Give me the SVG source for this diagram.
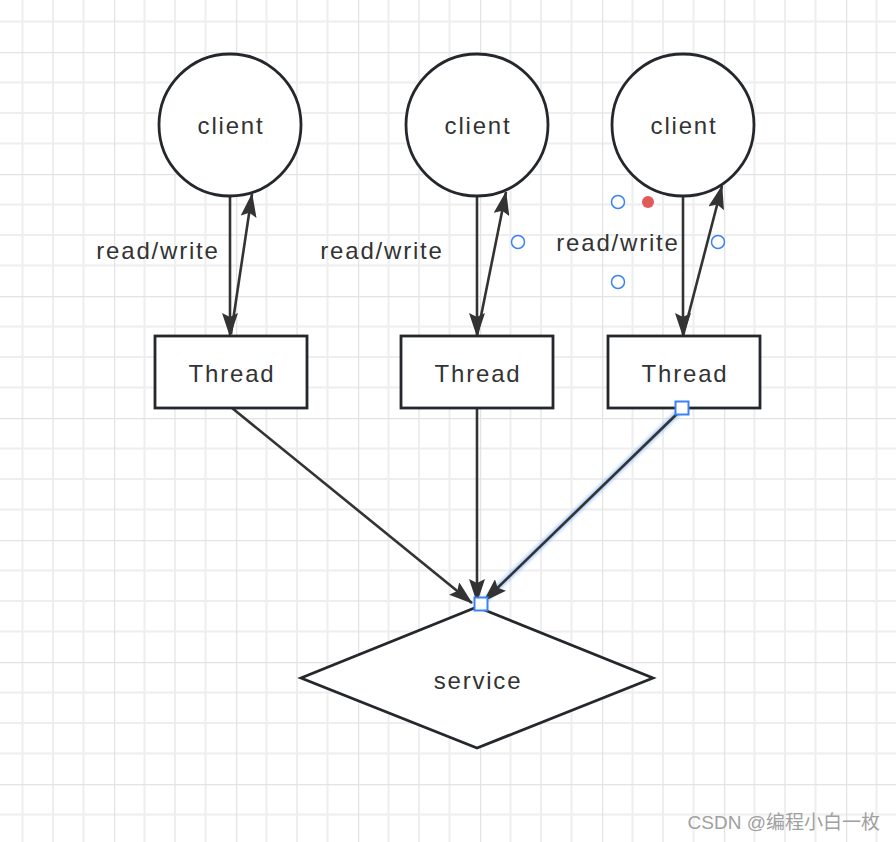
<svg xmlns="http://www.w3.org/2000/svg" width="896" height="842" viewBox="0 0 896 842">
<defs>
<pattern id="grid" patternUnits="userSpaceOnUse" x="-8" y="-70" width="122" height="122">
<path d="M30.5 0V122M61 0V122M91.5 0V122M0 30.5H122M0 61H122M0 91.5H122" stroke="#eeeeee" stroke-width="2" fill="none"/>
<path d="M0 0V122M0 0H122" stroke="#e3e3e3" stroke-width="2.5" fill="none"/>
</pattern>
<marker id="arr" viewBox="0 0 24 16" refX="23" refY="8" markerWidth="24" markerHeight="16" markerUnits="userSpaceOnUse" orient="auto">
<path d="M0 0L24 8L0 16L4 8Z" fill="#333"/>
</marker>
<filter id="glow" x="-20%" y="-20%" width="140%" height="140%"><feGaussianBlur stdDeviation="1.5"/></filter>
</defs>
<style>
.shape{fill:#fff;stroke:#24272b;stroke-width:2.8}
.lbl{font-family:"Liberation Sans",Arial,sans-serif;font-size:24px;fill:#333;text-anchor:middle;letter-spacing:1.8px}
.conn{stroke:#333;stroke-width:2.6;fill:none}
.handle{fill:#fff;stroke:#3b82f6;stroke-width:1.5}
</style>
<rect width="896" height="842" fill="#fff"/>
<rect width="896" height="842" fill="url(#grid)"/>

<g id="connectors">
<line class="conn" x1="230" y1="196" x2="230" y2="336" marker-end="url(#arr)"/>
<line class="conn" x1="231" y1="334" x2="252" y2="194" marker-end="url(#arr)"/>
<line class="conn" x1="477" y1="196" x2="477" y2="336" marker-end="url(#arr)"/>
<line class="conn" x1="477" y1="336" x2="506" y2="192" marker-end="url(#arr)"/>
<line class="conn" x1="683" y1="196" x2="683" y2="336" marker-end="url(#arr)"/>
<line class="conn" x1="683" y1="336" x2="722" y2="186" marker-end="url(#arr)"/>
<line class="conn" x1="232" y1="408" x2="472" y2="603" marker-end="url(#arr)"/>
<line class="conn" x1="477" y1="408" x2="477" y2="602" marker-end="url(#arr)"/>
<line x1="682" y1="409" x2="485" y2="600" stroke="#7fb0f5" stroke-width="6" opacity="0.6" filter="url(#glow)"/>
<line class="conn" x1="682" y1="409" x2="484" y2="601" marker-end="url(#arr)"/>
<text class="lbl" x="158" y="259">read/write</text>
<text class="lbl" x="382" y="259">read/write</text>
<text class="lbl" x="618" y="251">read/write</text>
</g>

<g id="client1"><circle class="shape" cx="230" cy="125" r="71"/><text class="lbl" x="231" y="134">client</text></g>
<g id="client2"><circle class="shape" cx="477" cy="125" r="71"/><text class="lbl" x="478" y="134">client</text></g>
<g id="client3"><circle class="shape" cx="683" cy="125" r="71"/><text class="lbl" x="684" y="134">client</text></g>

<g id="thread1"><rect class="shape" x="155" y="336" width="152" height="72"/><text class="lbl" x="232" y="382">Thread</text></g>
<g id="thread2"><rect class="shape" x="401" y="336" width="152" height="72"/><text class="lbl" x="478" y="382">Thread</text></g>
<g id="thread3"><rect class="shape" x="608" y="336" width="152" height="72"/><text class="lbl" x="685" y="382">Thread</text></g>

<g id="service"><polygon class="shape" points="477,607 653,678 477,748 301,678"/><text class="lbl" x="478" y="689">service</text></g>

<g id="handles">
<circle class="handle" cx="618" cy="202" r="6.5"/>
<circle class="handle" cx="618" cy="282" r="6.5"/>
<circle class="handle" cx="718" cy="242" r="6.5"/>
<circle class="handle" cx="518" cy="242" r="6.5"/>
<circle cx="648" cy="202" r="6" fill="#e05a5a"/>
<rect x="675.5" y="401.5" width="13" height="13" fill="#fff" stroke="#3b82f6" stroke-width="2"/>
<rect x="474.5" y="597.5" width="13" height="13" fill="#fff" stroke="#3b82f6" stroke-width="2"/>
</g>

<text x="880" y="829" font-family="'Liberation Sans','Noto Sans CJK SC',sans-serif" font-size="19" fill="#a0a0a0" text-anchor="end">CSDN @编程小白一枚</text>
</svg>
